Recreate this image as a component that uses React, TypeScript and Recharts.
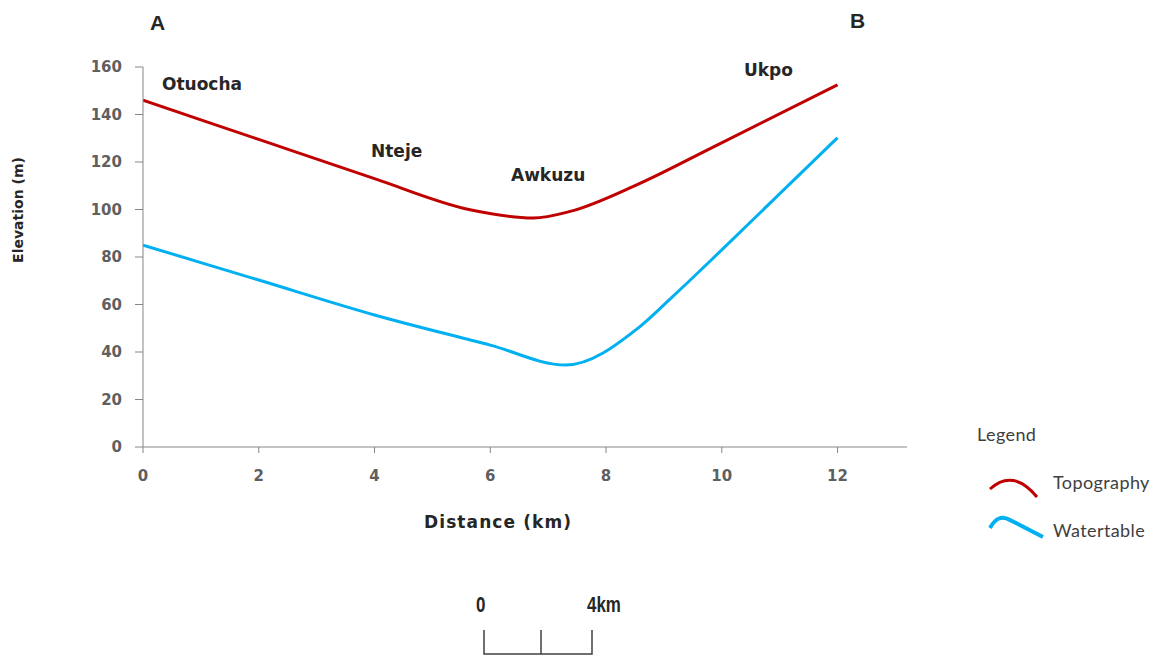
import React from 'react';
import { LineChart, Line, XAxis, YAxis } from 'recharts';

// distance (km) along the A-B profile
const topoDistance = [0, 2, 4, 5.65, 6.74, 7.38, 8.53, 9.85, 12];
const topoElevation = [146, 129.5, 113, 99.9, 96.4, 99.2, 110.4, 126.3, 152.5];

const waterDistance = [0, 2, 4, 6, 7.3, 8.58, 9.15, 10, 12];
const waterElevation = [85, 70.3, 55.6, 42.9, 34.5, 50.6, 63.3, 83, 130.2];

const xTicks = [0, 2, 4, 6, 8, 10, 12];
const yTicks = [0, 20, 40, 60, 80, 100, 120, 140, 160];

const topoData = topoDistance.map((d, i) => ({ distance: d, elevation: topoElevation[i] }));
const waterData = waterDistance.map((d, i) => ({ distance: d, elevation: waterElevation[i] }));

const RED = '#c00000';
const BLUE = '#00b0f0';
const AXIS = '#868686';

const tickTextStyle: React.CSSProperties = {
  fontFamily: 'DejaVu Sans',
  fontWeight: 700,
  fontSize: '15px',
  fill: '#5f5f5f',
};

const XTick = (props: any) => (
  <text x={props.x} y={props.y} dy="0.71em" textAnchor="middle" style={tickTextStyle}>
    {props.payload.value}
  </text>
);
const YTick = (props: any) => (
  <text x={props.x} y={props.y} dy="0.36em" textAnchor="end" style={tickTextStyle}>
    {props.payload.value}
  </text>
);

const placeStyle: React.CSSProperties = {
  position: 'absolute',
  fontFamily: 'DejaVu Sans',
  fontWeight: 700,
  fontSize: 17,
  color: '#262626',
  whiteSpace: 'nowrap',
};
const legendText: React.CSSProperties = {
  position: 'absolute',
  fontFamily: 'Lato',
  fontSize: 18,
  letterSpacing: 0.4,
  color: '#404040',
};
const scaleText: React.CSSProperties = {
  position: 'absolute',
  fontFamily: 'Liberation Sans',
  fontWeight: 700,
  fontSize: 22,
  color: '#262626',
  transform: 'scaleX(0.77)',
  transformOrigin: 'left',
};

export default function App() {
  return (
    <div style={{ position: 'absolute', left: 0, top: 0, width: 1161, height: 657, background: '#fff', overflow: 'hidden' }}>
      <LineChart
        width={1161}
        height={657}
        margin={{ top: 67, right: 254, bottom: 180, left: 83 }}
      >
        <XAxis
          type="number"
          dataKey="distance"
          domain={[0, 13.2]}
          ticks={xTicks}
          allowDataOverflow
          height={30}
          stroke={AXIS}
          tickSize={6}
          tickMargin={17}
          fontSize={15}
          tick={<XTick />}
        />
        <YAxis
          type="number"
          dataKey="elevation"
          domain={[0, 160]}
          ticks={yTicks}
          width={60}
          stroke={AXIS}
          tickSize={8}
          tickMargin={13}
          fontSize={15}
          tick={<YTick />}
        />
        <Line
          data={topoData}
          dataKey="elevation"
          type="monotone"
          stroke={RED}
          strokeWidth={3}
          dot={false}
          isAnimationActive={false}
        />
        <Line
          data={waterData}
          dataKey="elevation"
          type="monotone"
          stroke={BLUE}
          strokeWidth={3}
          dot={false}
          isAnimationActive={false}
        />
      </LineChart>

      <div style={{ ...placeStyle, fontFamily: 'Liberation Sans', fontSize: 21, left: 150, top: 11 }}>A</div>
      <div style={{ ...placeStyle, fontFamily: 'Liberation Sans', fontSize: 21, left: 850, top: 9 }}>B</div>

      <div style={{ ...placeStyle, left: 162, top: 74 }}>Otuocha</div>
      <div style={{ ...placeStyle, left: 371, top: 141 }}>Nteje</div>
      <div style={{ ...placeStyle, left: 511, top: 165 }}>Awkuzu</div>
      <div style={{ ...placeStyle, left: 744, top: 60 }}>Ukpo</div>

      <div
        style={{
          ...placeStyle,
          fontSize: 14,
          left: 18,
          top: 210,
          transform: 'translate(-50%, -50%) rotate(-90deg)',
        }}
      >
        Elevation (m)
      </div>
      <div style={{ ...placeStyle, fontSize: 17, letterSpacing: 1.1, left: 424, top: 512 }}>Distance (km)</div>

      <div style={{ ...legendText, left: 977, top: 423 }}>Legend</div>
      <svg style={{ position: 'absolute', left: 980, top: 470 }} width={80} height={80}>
        <path d="M 10 19 Q 33 -2 57 27" fill="none" stroke={RED} strokeWidth={3} />
        <path d="M 10 58 Q 18 43 30 50 L 63 67" fill="none" stroke={BLUE} strokeWidth={4} />
      </svg>
      <div style={{ ...legendText, left: 1053, top: 471 }}>Topography</div>
      <div style={{ ...legendText, left: 1053, top: 519 }}>Watertable</div>

      <div style={{ ...scaleText, left: 476, top: 592 }}>0</div>
      <div style={{ ...scaleText, left: 587, top: 592 }}>4km</div>
      <svg style={{ position: 'absolute', left: 480, top: 626 }} width={120} height={32}>
        <path d="M 4 4 L 4 28 L 112 28 L 112 4 M 61 4 L 61 28" fill="none" stroke="#404040" strokeWidth={1.5} />
      </svg>
    </div>
  );
}
